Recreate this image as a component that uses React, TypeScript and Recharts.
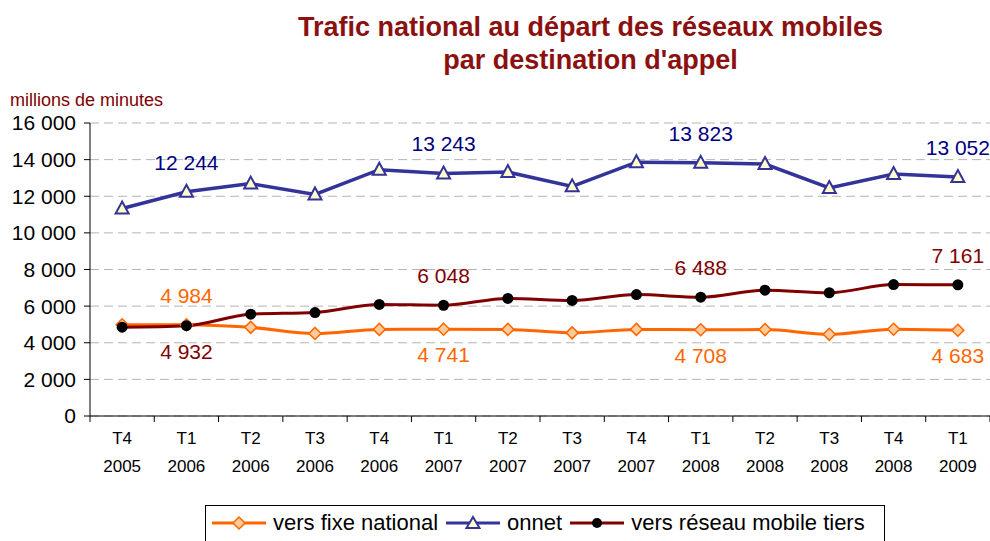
import React from "react";
import {
    LineChart,
    Line,
    XAxis,
    YAxis,
    CartesianGrid,
    LabelList,
} from "recharts";

const quarters = ["T4", "T1", "T2", "T3", "T4", "T1", "T2", "T3", "T4", "T1", "T2", "T3", "T4", "T1"];
const years = ["2005", "2006", "2006", "2006", "2006", "2007", "2007", "2007", "2007", "2008", "2008", "2008", "2008", "2009"];

const fixeNational = [4980, 4984, 4840, 4510, 4730, 4741, 4730, 4540, 4730, 4708, 4720, 4460, 4740, 4683];
const onnet = [11330, 12244, 12690, 12100, 13450, 13243, 13320, 12540, 13860, 13823, 13760, 12450, 13210, 13052];
const mobileTiers = [4850, 4932, 5560, 5650, 6090, 6048, 6420, 6310, 6630, 6488, 6870, 6730, 7180, 7161];

const yTicks = [0, 2000, 4000, 6000, 8000, 10000, 12000, 14000, 16000];
// points qui portent une étiquette (les T1)
const labelled = [1, 5, 9, 13];

const data = quarters.map((q, i) => ({
    cat: q + " " + years[i],
    q,
    year: years[i],
    fixe: fixeNational[i],
    onnet: onnet[i],
    mobile: mobileTiers[i],
}));

const W = 990;
const H = 541;
const LEFT = 90;
const BAND = (W - LEFT) / data.length;
const FONT = "'Liberation Sans', Arial, sans-serif";

const fmt = (v: number) => String(v).replace(/\B(?=(\d{3})+(?!\d))/g, " ");

const XTick = (props: any) => {
    const { x, y, payload, index } = props;
    const row = data[index] || data.find((d) => d.cat === payload.value);
    return (
        <g>
            <line x1={x - BAND / 2} x2={x - BAND / 2} y1={y} y2={y + 6} stroke="#000" />
            {index === data.length - 1 && (
                <line x1={x + BAND / 2} x2={x + BAND / 2} y1={y} y2={y + 6} stroke="#000" />
            )}
            <text x={x} y={y + 28} textAnchor="middle" fontSize={17} fontFamily={FONT} fill="#000">
                {row ? row.q : ""}
            </text>
            <text x={x} y={y + 56} textAnchor="middle" fontSize={17} fontFamily={FONT} fill="#000">
                {row ? row.year : ""}
            </text>
        </g>
    );
};

const Diamond = (props: any) => {
    const { cx, cy, index } = props;
    if (cx == null || cy == null) return <g key={"d" + index} />;
    const r = 6;
    return (
        <polygon
            key={"d" + index}
            points={`${cx},${cy - r} ${cx + r},${cy} ${cx},${cy + r} ${cx - r},${cy}`}
            fill="#FFCC99"
            stroke="#FF6600"
            strokeWidth={1.5}
        />
    );
};

const Triangle = (props: any) => {
    const { cx, cy, index } = props;
    if (cx == null || cy == null) return <g key={"t" + index} />;
    return (
        <polygon
            key={"t" + index}
            points={`${cx},${cy - 7} ${cx + 6.5},${cy + 5} ${cx - 6.5},${cy + 5}`}
            fill="#FFFFCC"
            stroke="#333399"
            strokeWidth={2}
        />
    );
};

const Dot = (props: any) => {
    const { cx, cy, index } = props;
    if (cx == null || cy == null) return <g key={"c" + index} />;
    return <circle key={"c" + index} cx={cx} cy={cy} r={5.5} fill="#000" />;
};

// étiquette au-dessus ou en dessous du point
const makeLabel = (color: string, above: (i: number) => boolean) => (props: any) => {
    const { x, y, value, index } = props;
    if (!labelled.includes(index)) return null;
    const up = above(index);
    return (
        <text
            x={x}
            y={up ? y - 22 : y + 33}
            textAnchor="middle"
            fontSize={21}
            fontFamily={FONT}
            fill={color}
        >
            {fmt(value)}
        </text>
    );
};

const LegendItem = ({ color, marker, label }: { color: string; marker: string; label: string }) => (
    <div style={{ display: "flex", alignItems: "center", marginRight: 6 }}>
        <svg width={58} height={16} style={{ marginRight: 5 }}>
            <line x1={2} x2={56} y1={8} y2={8} stroke={color} strokeWidth={3} />
            {marker === "diamond" && (
                <polygon points="29,2 35,8 29,14 23,8" fill="#FFCC99" stroke="#FF6600" strokeWidth={1.5} />
            )}
            {marker === "triangle" && (
                <polygon points="29,2 35.5,13 22.5,13" fill="#FFFFCC" stroke="#333399" strokeWidth={2} />
            )}
            {marker === "circle" && <circle cx={29} cy={8} r={5} fill="#000" />}
        </svg>
        <span>{label}</span>
    </div>
);

export default function App() {
    return (
        <div style={{ position: "absolute", left: 0, top: 0, width: W, height: H, background: "#fff", overflow: "hidden", fontFamily: FONT }}>
            <div
                style={{
                    position: "absolute",
                    left: 0,
                    top: 11,
                    width: 1181,
                    textAlign: "center",
                    color: "#8B1111",
                    fontWeight: "bold",
                    fontSize: 27,
                    lineHeight: "33px",
                }}
            >
                Trafic national au départ des réseaux mobiles
                <br />
                par destination d'appel
            </div>
            <div style={{ position: "absolute", left: 10, top: 90, fontSize: 18, color: "#800000" }}>
                millions de minutes
            </div>

            <LineChart
                width={W}
                height={H}
                data={data}
                margin={{ top: 123, right: 0, bottom: 55, left: 0 }}
            >
                <CartesianGrid vertical={false} stroke="#b4b4b4" strokeDasharray="9 5" />
                <XAxis
                    dataKey="cat"
                    scale="band"
                    height={70}
                    interval={0}
                    tickSize={0}
                    tickMargin={0}
                    tickLine={false}
                    axisLine={{ stroke: "#000" }}
                    tick={<XTick />}
                />
                <YAxis
                    width={LEFT}
                    domain={[0, 16000]}
                    ticks={yTicks}
                    interval={0}
                    tickFormatter={fmt}
                    tickSize={6}
                    tickMargin={8}
                    axisLine={{ stroke: "#000" }}
                    tickLine={{ stroke: "#000" }}
                    tick={{ fill: "#000", fontSize: 21, fontFamily: FONT }}
                />
                <Line
                    type="monotone"
                    dataKey="fixe"
                    stroke="#FF6600"
                    strokeWidth={3}
                    dot={<Diamond />}
                    isAnimationActive={false}
                >
                    <LabelList dataKey="fixe" content={makeLabel("#FF6600", (i) => i === 1)} />
                </Line>
                <Line
                    type="linear"
                    dataKey="onnet"
                    stroke="#333399"
                    strokeWidth={3.5}
                    dot={<Triangle />}
                    isAnimationActive={false}
                >
                    <LabelList dataKey="onnet" content={makeLabel("#000080", () => true)} />
                </Line>
                <Line
                    type="monotone"
                    dataKey="mobile"
                    stroke="#800000"
                    strokeWidth={3}
                    dot={<Dot />}
                    isAnimationActive={false}
                >
                    <LabelList dataKey="mobile" content={makeLabel("#800000", (i) => i !== 1)} />
                </Line>
            </LineChart>

            <div
                style={{
                    position: "absolute",
                    left: 205,
                    top: 505,
                    width: 680,
                    height: 50,
                    border: "1px solid #000",
                    boxSizing: "border-box",
                    display: "flex",
                    alignItems: "flex-start",
                    paddingTop: 4,
                    paddingLeft: 4,
                    fontSize: 22,
                    color: "#000",
                    whiteSpace: "nowrap",
                }}
            >
                <LegendItem color="#FF6600" marker="diamond" label="vers fixe national" />
                <LegendItem color="#333399" marker="triangle" label="onnet" />
                <LegendItem color="#800000" marker="circle" label="vers réseau mobile tiers" />
            </div>
        </div>
    );
}
